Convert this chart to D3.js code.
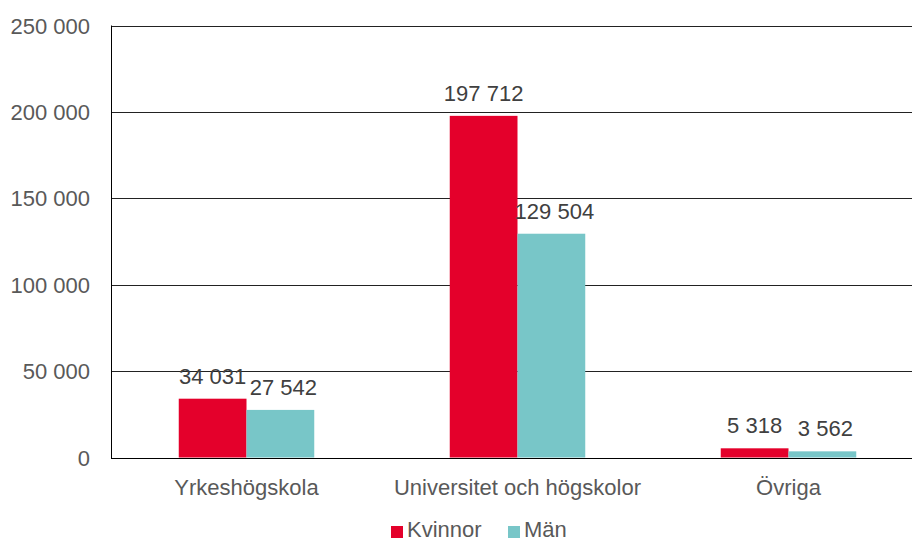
<!DOCTYPE html>
<html><head><meta charset="utf-8">
<script src="https://cdn.jsdelivr.net/npm/d3@7"></script>
<style>body{margin:0;background:#fff}svg{display:block}</style>
</head><body>
<svg id="c" width="912" height="543"></svg>
<script>
const categories = ["Yrkeshögskola", "Universitet och högskolor", "Övriga"];
const seriesNames = ["Kvinnor", "Män"];
const kvinnor = [34031, 197712, 5318];
const man = [27542, 129504, 3562];
const yTicks = [0, 50000, 100000, 150000, 200000, 250000];
const colors = ["#E4002B", "#78C6C8"];

const svg = d3.select("#c");
const font = "Liberation Sans, Arial, sans-serif";
const fs = 22;
const plotL = 111, plotR = 924, plotT = 25.5, plotB = 457.5;
const fmt = v => d3.format(",")(v).replace(/,/g, " ");

const x = d3.scaleBand().domain(categories).range([plotL, plotR]).paddingInner(0).paddingOuter(0);
const x1 = d3.scaleBand().domain(seriesNames).range([0, x.bandwidth()]).paddingInner(0).paddingOuter(1);
const y = d3.scaleLinear().domain([0, 250000]).range([plotB, plotT]);

// gridlines
svg.append("g").selectAll("line").data(yTicks).join("line")
  .attr("x1", plotL).attr("x2", 912)
  .attr("y1", d => Math.round(y(d)) + 0.5).attr("y2", d => Math.round(y(d)) + 0.5)
  .attr("stroke", d => d === 0 ? "#000" : "#222").attr("stroke-width", 1);

// y labels
svg.append("g").selectAll("text").data(yTicks).join("text")
  .attr("x", 90).attr("y", d => y(d) + 8)
  .attr("text-anchor", "end").attr("font-family", font).attr("font-size", fs)
  .attr("fill", "#595959").text(d => fmt(d));

const data = categories.map((c, i) => ({cat: c, vals: [kvinnor[i], man[i]]}));
const groups = svg.append("g").selectAll("g").data(data).join("g")
  .attr("transform", d => `translate(${x(d.cat)},0)`);
groups.selectAll("rect").data(d => d.vals.map((v, j) => ({v, s: seriesNames[j], j}))).join("rect")
  .attr("x", d => x1(d.s)).attr("width", x1.bandwidth())
  .attr("y", d => y(d.v)).attr("height", d => y(0) - y(d.v))
  .attr("fill", d => colors[d.j]);
groups.selectAll("text").data(d => d.vals.map((v, j) => ({v, s: seriesNames[j], j}))).join("text")
  .attr("x", d => x1(d.s) + x1.bandwidth() / 2 + d.j * 3).attr("y", d => y(d.v) - 15)
  .attr("text-anchor", "middle").attr("font-family", font).attr("font-size", fs)
  .attr("fill", "#404040").text(d => fmt(d.v));

// left axis line
svg.append("line").attr("x1", plotL + 0.5).attr("x2", plotL + 0.5).attr("y1", y(250000)).attr("y2", y(0) + 0.5)
  .attr("stroke", "#000");

// category labels
svg.append("g").selectAll("text").data(categories).join("text")
  .attr("x", d => x(d) + x.bandwidth() / 2).attr("y", 495)
  .attr("text-anchor", "middle").attr("font-family", font).attr("font-size", fs)
  .attr("fill", "#595959").text(d => d);

// legend
const leg = [{x: 391}, {x: 508}];
leg.forEach((l, i) => {
  svg.append("rect").attr("x", l.x).attr("y", 526).attr("width", 12).attr("height", 12).attr("fill", colors[i]);
  svg.append("text").attr("x", l.x + 16).attr("y", 537).attr("font-family", font).attr("font-size", fs)
    .attr("fill", "#595959").text(seriesNames[i]);
});
</script>
</body></html>
